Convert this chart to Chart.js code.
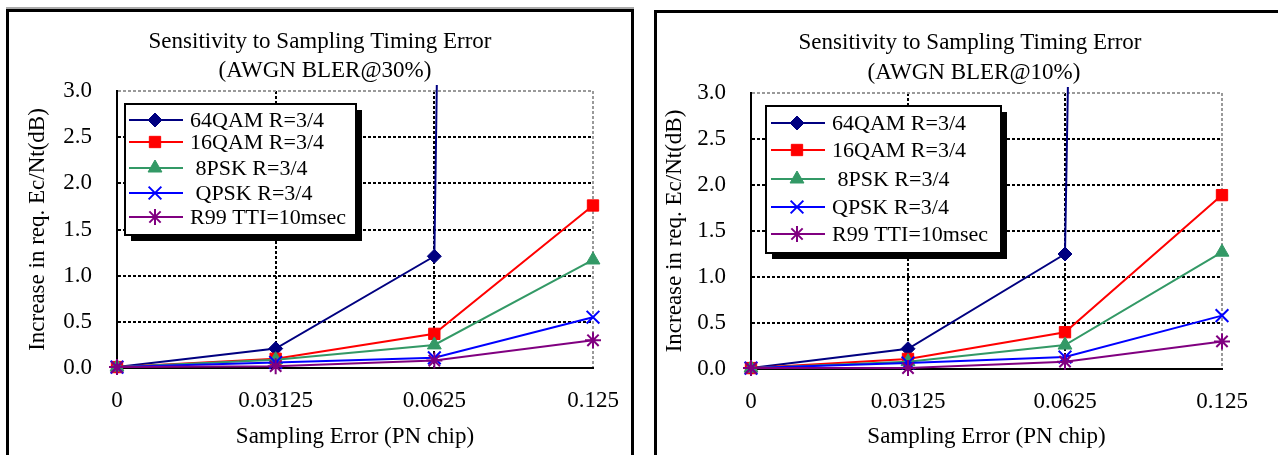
<!DOCTYPE html>
<html><head><meta charset="utf-8">
<script src="https://cdn.jsdelivr.net/npm/chart.js@4.4.1/dist/chart.umd.min.js"></script>
<style>
html,body{margin:0;padding:0;background:#fff;width:1278px;height:455px;overflow:hidden;position:relative}
.panel{position:absolute;border:3px solid #000;box-sizing:border-box}
#p1{left:6px;top:9px;width:628px;height:470px;box-shadow:0 -2px 0 #aaa}
#p2{left:654px;top:10px;width:640px;height:470px}
canvas{position:absolute;top:0}
#c1{left:0}
#c2{left:640px}
</style></head><body>
<div class="panel" id="p1"></div><div class="panel" id="p2"></div>
<canvas id="c1" width="640" height="455"></canvas>
<canvas id="c2" width="638" height="455"></canvas>
<script>
// ---- data ----
const categories = ['0', '0.03125', '0.0625', '0.125'];
const yTickStep = 0.5;
const yMin = 0, yMax = 3;
const xTitle = 'Sampling Error (PN chip)';
const yTitle = 'Increase in req. Ec/Nt(dB)';
const mainTitle = 'Sensitivity to Sampling Timing Error';
const subTitle30 = '(AWGN BLER@30%)';
const subTitle10 = '(AWGN BLER@10%)';
const labels30 = ['64QAM R=3/4', '16QAM R=3/4', ' 8PSK R=3/4', ' QPSK R=3/4', 'R99 TTI=10msec'];
const labels10 = ['64QAM R=3/4', '16QAM R=3/4', ' 8PSK R=3/4', 'QPSK R=3/4', 'R99 TTI=10msec'];
// BLER@30%
const qam64_30 = [0.01, 0.21, 1.21, 120];
const qam16_30 = [0.01, 0.10, 0.37, 1.76];
const psk8_30  = [0.01, 0.09, 0.25, 1.17];
const qpsk_30  = [0.01, 0.06, 0.11, 0.55];
const r99_30   = [0.01, 0.02, 0.08, 0.30];
// BLER@10%
const qam64_10 = [0.01, 0.22, 1.25, 100];
const qam16_10 = [0.01, 0.11, 0.40, 1.89];
const psk8_10  = [0.01, 0.08, 0.26, 1.27];
const qpsk_10  = [0.01, 0.065, 0.13, 0.58];
const r99_10   = [0.01, 0.01, 0.08, 0.30];

// ---- styles ----
const FONT = '"Liberation Serif", "Times New Roman", serif';
const styles = [
  {color:'#000080', pointStyle:'rectRot', radius:7, bw:1},
  {color:'#ff0000', pointStyle:'rect', radius:8, bw:1},
  {color:'#339966', pointStyle:'triangle', radius:8, bw:1},
  {color:'#0000ff', pointStyle:'crossRot', radius:9, bw:2},
  {color:'#800080', pointStyle:'star', radius:8, bw:2}
];

function buildDatasets(labels, series) {
  return series.map((d, i) => ({
    label: labels[i], data: d,
    borderColor: styles[i].color, backgroundColor: styles[i].color,
    pointStyle: styles[i].pointStyle, pointRadius: styles[i].radius,
    pointBorderWidth: styles[i].bw, pointBackgroundColor: styles[i].color,
    pointBorderColor: styles[i].color,
    borderWidth: 2, tension: 0, fill: false,
    clip: {left: 12, right: 12, top: 6, bottom: 12},
    order: 5 - i
  }));
}

const titlePlugin = {
  id: 'ptitle',
  afterDraw(chart, args, o) {
    const ctx = chart.ctx;
    ctx.save();
    ctx.fillStyle = '#000';
    ctx.font = '23px ' + FONT;
    ctx.textAlign = 'center';
    ctx.textBaseline = 'middle';
    o.lines.forEach(l => ctx.fillText(l.text, l.x, l.y));
    ctx.restore();
  }
};

function drawMarker(ctx, style, x, y) {
  const H = Chart.helpers;
  ctx.save();
  ctx.fillStyle = style.color; ctx.strokeStyle = style.color; ctx.lineWidth = style.bw;
  if (H && H.drawPoint) {
    H.drawPoint(ctx, {pointStyle: style.pointStyle, radius: style.radius, rotation: 0, borderWidth: style.bw}, x, y);
  }
  ctx.restore();
}

const legendPlugin = {
  id: 'plegend',
  afterDatasetsDraw(chart, args, o) {
    const ctx = chart.ctx;
    const b = o.box;
    ctx.save();
    ctx.fillStyle = '#000';
    ctx.fillRect(b.x + o.shadow, b.y + o.shadow, b.w, b.h);
    ctx.fillStyle = '#fff';
    ctx.fillRect(b.x, b.y, b.w, b.h);
    ctx.strokeStyle = '#000'; ctx.lineWidth = 2;
    ctx.strokeRect(b.x, b.y, b.w, b.h);
    ctx.font = '22px ' + FONT;
    ctx.textAlign = 'left'; ctx.textBaseline = 'middle';
    chart.data.datasets.forEach((ds, i) => {
      const y = o.rows[i];
      ctx.strokeStyle = styles[i].color; ctx.lineWidth = 2;
      ctx.beginPath(); ctx.moveTo(o.lineX1, y); ctx.lineTo(o.lineX2, y); ctx.stroke();
      drawMarker(ctx, styles[i], o.markerX, y);
      ctx.fillStyle = '#000';
      ctx.fillText(ds.label, o.textX, y + 1);
    });
    ctx.restore();
  }
};

function makeChart(id, labels, series, cfg) {
  return new Chart(document.getElementById(id), {
    type: 'line',
    data: {labels: categories, datasets: buildDatasets(labels, series)},
    options: {
      responsive: false, animation: false, devicePixelRatio: 1,
      layout: {padding: {top: cfg.top, right: cfg.right, left: 0, bottom: 0}},
      plugins: {
        legend: {display: false}, tooltip: {enabled: false}, title: {display: false},
        ptitle: {lines: cfg.titles},
        plegend: cfg.legend
      },
      scales: {
        x: {
          type: 'category', offset: false,
          grid: {
            color: c => c.index === 0 ? 'rgba(0,0,0,0)' : (c.index === categories.length - 1 ? '#9a9a9a' : '#000'),
            lineWidth: 2, drawTicks: false
          },
          border: {display: true, color: '#000', width: 2, dash: [3, 2]},
          ticks: {color: '#000', font: {family: FONT, size: 23}, padding: 19, maxRotation: 0, autoSkip: false},
          title: {display: true, text: xTitle, color: '#000', font: {family: FONT, size: 23}, padding: {top: 0, bottom: 4}},
          afterFit: s => { s.height = cfg.xh; }
        },
        y: {
          min: yMin, max: yMax,
          grid: {
            color: c => (c.tick && c.tick.value === yMin) ? 'rgba(0,0,0,0)' : ((c.tick && c.tick.value === yMax) ? '#9a9a9a' : '#000'),
            lineWidth: 2, drawTicks: false
          },
          border: {display: true, color: '#000', width: 2, dash: [3, 2]},
          ticks: {stepSize: yTickStep, color: '#000', font: {family: FONT, size: 23}, padding: 25,
                  callback: v => Number(v).toFixed(1)},
          title: {display: true, text: yTitle, color: '#000', font: {family: FONT, size: 23}, padding: {top: cfg.ytp, bottom: 0}},
          afterFit: s => { s.width = cfg.yw; }
        }
      }
    },
    plugins: [titlePlugin, legendPlugin]
  });
}

makeChart('c1', labels30, [qam64_30, qam16_30, psk8_30, qpsk_30, r99_30], {
  top: 91, right: 47, xh: 87, yw: 117, ytp: 24,
  titles: [{text: mainTitle, x: 320, y: 42}, {text: subTitle30, x: 325, y: 71}],
  legend: {box: {x: 125, y: 104, w: 231, h: 131}, shadow: 6,
           rows: [120, 142, 168, 193, 217], lineX1: 129, lineX2: 183, markerX: 155, textX: 190}
});
makeChart('c2', labels10, [qam64_10, qam16_10, psk8_10, qpsk_10, r99_10], {
  top: 93, right: 56, xh: 86, yw: 111, ytp: 21,
  titles: [{text: mainTitle, x: 330, y: 43}, {text: subTitle10, x: 334, y: 73}],
  legend: {box: {x: 126, y: 106, w: 235, h: 147}, shadow: 6,
           rows: [123, 150, 179, 207, 234], lineX1: 131, lineX2: 185, markerX: 157, textX: 192}
});
</script>
</body></html>
